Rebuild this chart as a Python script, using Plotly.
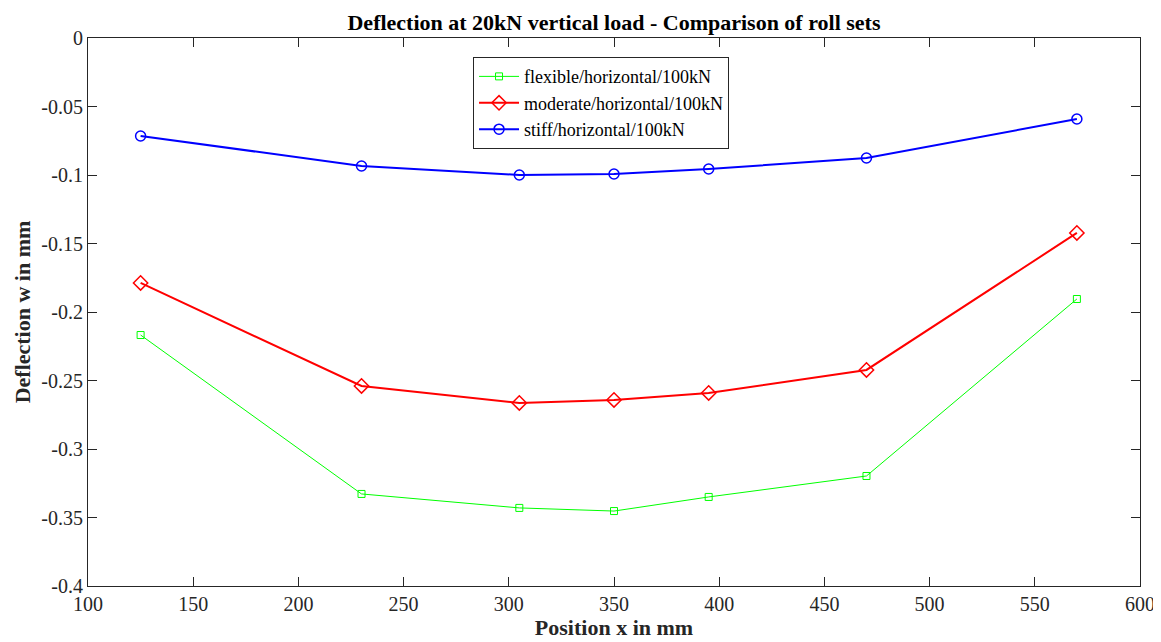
import plotly.graph_objects as go

x_pos = [125, 230, 305, 350, 395, 470, 570]
flexible = [-0.2168, -0.3328, -0.3430, -0.3453, -0.3350, -0.3197, -0.1905]
moderate = [-0.1788, -0.2540, -0.2664, -0.2642, -0.2591, -0.2423, -0.1423]
stiff = [-0.0715, -0.0934, -0.1000, -0.0993, -0.0956, -0.0876, -0.0591]

x_ticks = [100, 150, 200, 250, 300, 350, 400, 450, 500, 550, 600]
y_ticks = [0, -0.05, -0.1, -0.15, -0.2, -0.25, -0.3, -0.35, -0.4]
y_tick_text = ["0", "-0.05", "-0.1", "-0.15", "-0.2", "-0.25", "-0.3", "-0.35", "-0.4"]

font = "Liberation Serif, Times New Roman, serif"

fig = go.Figure()
fig.add_trace(go.Scatter(x=x_pos, y=flexible, mode="lines+markers",
                         name="flexible/horizontal/100kN",
                         line=dict(color="#00ff00", width=1),
                         marker=dict(symbol="square-open", size=7, color="#00ff00", line=dict(width=1))))
fig.add_trace(go.Scatter(x=x_pos, y=moderate, mode="lines+markers",
                         name="moderate/horizontal/100kN",
                         line=dict(color="#ff0000", width=2),
                         marker=dict(symbol="diamond-open", size=11, color="#ff0000", line=dict(width=1.5))))
fig.add_trace(go.Scatter(x=x_pos, y=stiff, mode="lines+markers",
                         name="stiff/horizontal/100kN",
                         line=dict(color="#0000ff", width=2),
                         marker=dict(symbol="circle-open", size=10, color="#0000ff", line=dict(width=1.5))))

axis_common = dict(showgrid=False, zeroline=False, showline=True, linecolor="#262626",
                   linewidth=1, mirror="ticks", ticks="inside", ticklen=9, tickcolor="#262626",
                   tickfont=dict(family=font, size=20, color="#262626"), automargin=False)

# page body has an 8px default margin, so the figure is shrunk by 8px
fig.update_layout(
    width=1153, height=634,
    paper_bgcolor="white", plot_bgcolor="white",
    margin=dict(l=80, r=21, t=30, b=56),
    title=dict(text="<b>Deflection at 20kN vertical load - Comparison of roll sets</b>",
               x=0.5, xref="paper", xanchor="center", y=0.978, yanchor="middle",
               font=dict(family=font, size=22, color="black")),
    xaxis=dict(range=[100, 600], tickvals=x_ticks, **axis_common,
               title=dict(text="<b>Position x in mm</b>", standoff=2,
                          font=dict(family=font, size=22, color="#262626"))),
    yaxis=dict(range=[-0.4, 0], tickvals=y_ticks, ticktext=y_tick_text, **axis_common,
               title=dict(text="<b>Deflection w in mm</b>", standoff=4,
                          font=dict(family=font, size=22, color="#262626"))),
    legend=dict(x=0.366, y=0.965, xanchor="left", yanchor="top",
                bgcolor="white", bordercolor="#262626", borderwidth=1,
                font=dict(family=font, size=18, color="black"),
                tracegroupgap=0, itemwidth=40),
    showlegend=True,
)

fig.write_html("out.html")
